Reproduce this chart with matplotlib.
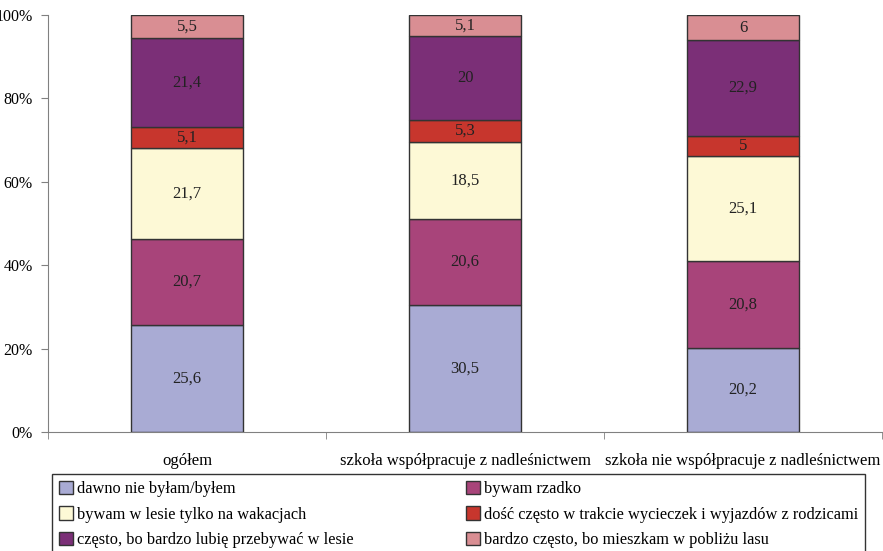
import matplotlib.pyplot as plt
import numpy as np
from matplotlib.patches import Patch

plt.rcParams['font.family'] = ['Liberation Serif', 'DejaVu Serif']

groups = ["ogółem", "szkoła współpracuje z nadleśnictwem",
          "szkoła nie współpracuje z nadleśnictwem"]
series = ["dawno nie byłam/byłem", "bywam rzadko",
          "bywam w lesie tylko na wakacjach",
          "dość często w trakcie wycieczek i wyjazdów z rodzicami",
          "często, bo bardzo lubię przebywać w lesie",
          "bardzo często, bo mieszkam w pobliżu lasu"]
dawno = [25.6, 30.5, 20.2]
rzadko = [20.7, 20.6, 20.8]
wakacje = [21.7, 18.5, 25.1]
dosc_czesto = [5.1, 5.3, 5]
czesto = [21.4, 20, 22.9]
bardzo_czesto = [5.5, 5.1, 6]
colors = ["#a9abd4", "#a8447a", "#fdf9d6", "#c7362d", "#7b2f77", "#d98e93"]

values = [dawno, rzadko, wakacje, dosc_czesto, czesto, bardzo_czesto]

fig = plt.figure(figsize=(8.83, 5.51), dpi=100)
ax = fig.add_axes([48/883, 119/551, 834/883, 417/551])

x = np.arange(len(groups))
bottom = np.zeros(len(groups))
for vals, col in zip(values, colors):
    vals = np.array(vals, dtype=float)
    ax.bar(x, vals, 0.4, bottom=bottom, color=col, edgecolor="#333333", linewidth=1)
    for xi, b, v in zip(x, bottom, vals):
        lab = ("%g" % v).replace(".", ",")
        ax.text(xi, b + v / 2, lab, ha="center", va="center", fontsize=12, color="#222222")
    bottom += vals

ax.set_xlim(-0.5, 2.5)
ax.set_ylim(0, 100)
ax.set_yticks(range(0, 101, 20))
ax.set_yticklabels(["%d%%" % t for t in range(0, 101, 20)], fontsize=11.5)
ax.set_xticks(x)
ax.set_xticklabels(groups, fontsize=12)
ax.set_xticks([-0.5, 0.5, 1.5, 2.5], minor=True)
ax.tick_params(axis="x", which="major", length=0, pad=15)
ax.tick_params(axis="x", which="minor", length=5, color="#808080")
ax.tick_params(axis="y", length=5, color="#808080", pad=6)
for s in ["top", "right"]:
    ax.spines[s].set_visible(False)
for s in ["left", "bottom"]:
    ax.spines[s].set_color("#808080")

order = [0, 2, 4, 1, 3, 5]
handles = [Patch(facecolor=colors[i], edgecolor="#333333", label=series[i]) for i in order]
fig.legend(handles=handles, ncol=2, loc="upper left",
           bbox_to_anchor=(52/883, 1 - 474/551, 813/883, 0.0), mode="expand",
           frameon=True, fancybox=False, edgecolor="#000000", fontsize=11.8,
           handlelength=0.85, handleheight=0.85, handletextpad=0.25,
           borderaxespad=0, labelspacing=0.57, borderpad=0.42)

fig.savefig("out.png", dpi=100)
